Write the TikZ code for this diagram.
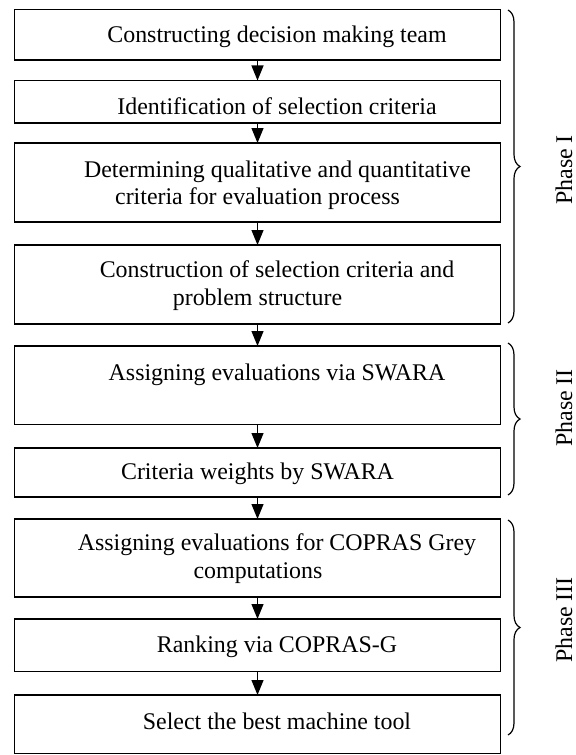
\documentclass[tikz,border=0pt]{standalone}
\usepackage{fontspec}
\setmainfont{Liberation Serif}
\usetikzlibrary{arrows.meta,decorations.pathreplacing}
\begin{document}
\begin{tikzpicture}[x=1bp,y=-1bp,
  box/.style={draw=black, line width=1.2bp, minimum width=486.4bp, inner sep=0pt, outer sep=0pt},
  txt/.style={anchor=base, inner sep=0pt, font=\fontsize{23.9bp}{27.5bp}\selectfont},
  arr/.style={draw=black, line width=1.2bp, -{Triangle[width=12bp,length=15bp]}},
  phasebrace/.style={draw=black, line width=1.2bp, decorate, decoration={brace, amplitude=12bp}},
  phase/.style={rotate=90, anchor=base, inner sep=0pt, font=\fontsize{23.9bp}{27.5bp}\selectfont}]
\useasboundingbox (0,0) rectangle (576,755);
\fill[white] (0,0) rectangle (576,755);
% boxes
\node[box, minimum height=50.5bp] (b1) at (257.5,34.75) {};
\node[box, minimum height=42.5bp] (b2) at (257.5,101.75) {};
\node[box, minimum height=79bp] (b3) at (257.5,182.5) {};
\node[box, minimum height=79bp] (b4) at (257.5,284.5) {};
\node[box, minimum height=78.5bp] (b5) at (257.5,385.25) {};
\node[box, minimum height=49bp] (b6) at (257.5,472.5) {};
\node[box, minimum height=78bp] (b7) at (257.5,558) {};
\node[box, minimum height=52.5bp] (b8) at (257.5,645.25) {};
\node[box, minimum height=58.5bp] (b9) at (257.5,724.25) {};
% texts
\node[txt] (t1) at (277,42.5) {Constructing decision making team};
\node[txt] (t2) at (277,114.5) {Identification of selection criteria};
\node[txt] (t3a) at (277.5,177.5) {Determining qualitative and quantitative};
\node[txt] (t3b) at (257.5,204.5) {criteria for evaluation process};
\node[txt] (t4a) at (277,277.5) {Construction of selection criteria and};
\node[txt] (t4b) at (257.5,305.5) {problem structure};
\node[txt] (t5) at (277,380.5) {Assigning evaluations via SWARA};
\node[txt] (t6) at (257.5,479.5) {Criteria weights by SWARA};
\node[txt] (t7a) at (277,550.5) {Assigning evaluations for COPRAS Grey};
\node[txt] (t7b) at (258,578.5) {computations};
\node[txt] (t8) at (277,652.5) {Ranking via COPRAS-G};
\node[txt] (t9) at (277,729.5) {Select the best machine tool};
% arrows
\draw[arr] (b1.south) -- (b2.north);
\draw[arr] (b2.south) -- (b3.north);
\draw[arr] (b3.south) -- (b4.north);
\draw[arr] (b4.south) -- (b5.north);
\draw[arr] (b5.south) -- (b6.north);
\draw[arr] (b6.south) -- (b7.north);
\draw[arr] (b7.south) -- (b8.north);
\draw[arr] (b8.south) -- (b9.north);
% braces
\coordinate (p1s) at (508,10);
\coordinate (p1e) at (508,323);
\coordinate (p2s) at (508,343);
\coordinate (p2e) at (508,495);
\coordinate (p3s) at (508,520);
\coordinate (p3e) at (508,735);
\draw[phasebrace] (p1s) -- (p1e);
\draw[phasebrace] (p2s) -- (p2e);
\draw[phasebrace] (p3s) -- (p3e);
\node[phase] (ph1) at (572,170) {Phase I};
\node[phase] (ph2) at (572,408) {Phase II};
\node[phase] (ph3) at (572,620) {Phase III};
\end{tikzpicture}
\end{document}
